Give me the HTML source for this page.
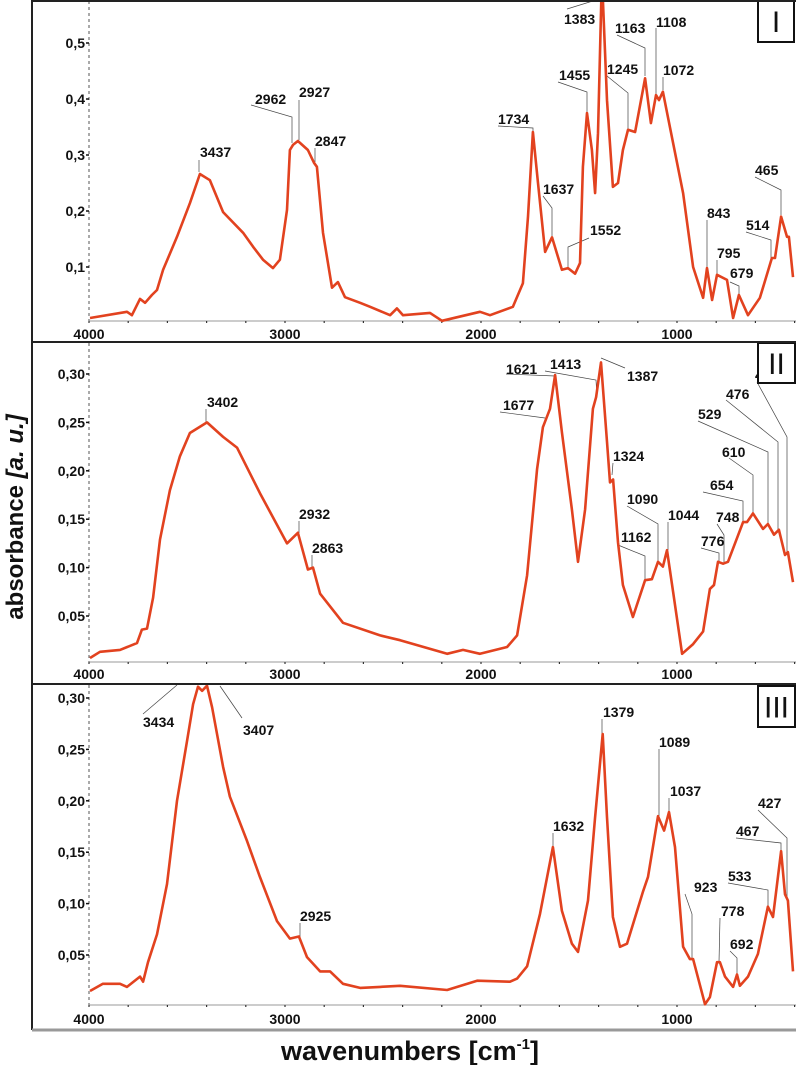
<!DOCTYPE html>
<html><head><meta charset="utf-8"><style>
html,body{margin:0;padding:0;background:#fff;}
svg{display:block;font-family:"Liberation Sans",Arial,sans-serif;}
.tl{font-size:14px;font-weight:bold;fill:#111;}
.pk{font-size:14px;font-weight:bold;fill:#111;}
.ld{stroke:#444;stroke-width:0.7;fill:none;}
</style></head><body>
<svg id="chart" width="796" height="1065" viewBox="0 0 796 1065"></svg>
<script>
// ---- data ----
const wnTicks = [4000, 3000, 2000, 1000];
const yTicksI = [0.1, 0.2, 0.3, 0.4, 0.5];
const yTickLabelsI = ["0,1", "0,2", "0,3", "0,4", "0,5"];
const yTicksII = [0.05, 0.10, 0.15, 0.20, 0.25, 0.30];
const yTickLabelsII = ["0,05", "0,10", "0,15", "0,20", "0,25", "0,30"];
const yTicksIII = [0.05, 0.10, 0.15, 0.20, 0.25, 0.30];
const yTickLabelsIII = ["0,05", "0,10", "0,15", "0,20", "0,25", "0,30"];

const wnI = [3995,3806,3781,3740,3714,3679,3653,3622,3551,3485,3434,3383,3316,3214,3163,3112,3061,3026,2990,2975,2959,2934,2883,2852,2837,2806,2760,2730,2694,2617,2566,2464,2429,2398,2260,2199,2005,1954,1837,1786,1760,1735,1709,1673,1638,1587,1556,1520,1495,1480,1459,1434,1418,1403,1383,1357,1327,1301,1276,1250,1214,1163,1133,1107,1092,1072,1036,969,918,867,847,821,796,745,714,684,638,577,516,500,469,439,429,408];
const absI = [0.009,0.02,0.014,0.043,0.036,0.05,0.059,0.095,0.154,0.214,0.266,0.255,0.198,0.161,0.136,0.113,0.098,0.113,0.202,0.309,0.318,0.325,0.309,0.286,0.279,0.161,0.063,0.073,0.046,0.036,0.029,0.014,0.026,0.014,0.018,0.004,0.02,0.014,0.029,0.071,0.19,0.341,0.25,0.127,0.153,0.095,0.098,0.088,0.107,0.279,0.375,0.309,0.232,0.339,0.62,0.398,0.243,0.25,0.309,0.345,0.341,0.437,0.357,0.407,0.398,0.413,0.35,0.232,0.1,0.045,0.098,0.041,0.086,0.077,0.009,0.05,0.014,0.045,0.116,0.116,0.19,0.154,0.154,0.082];

const wnII = [3995,3944,3842,3755,3730,3704,3673,3638,3587,3536,3485,3398,3316,3245,3128,2990,2934,2883,2857,2821,2704,2515,2413,2173,2092,2005,1867,1816,1765,1714,1684,1648,1622,1587,1536,1505,1469,1429,1413,1388,1357,1342,1326,1301,1276,1225,1163,1128,1097,1072,1051,1020,974,918,867,832,811,791,765,740,663,643,612,561,536,505,480,449,434,408];
const absII = [0.0066,0.013,0.015,0.022,0.036,0.037,0.069,0.129,0.18,0.215,0.239,0.25,0.235,0.224,0.177,0.125,0.136,0.098,0.1,0.073,0.043,0.03,0.025,0.011,0.015,0.011,0.018,0.03,0.092,0.202,0.245,0.264,0.299,0.24,0.16,0.106,0.16,0.264,0.276,0.312,0.23,0.188,0.191,0.126,0.082,0.049,0.087,0.088,0.106,0.101,0.118,0.075,0.011,0.021,0.034,0.078,0.082,0.106,0.104,0.106,0.147,0.147,0.156,0.14,0.145,0.134,0.139,0.113,0.116,0.085];

const wnIII = [3995,3929,3842,3806,3740,3724,3699,3653,3602,3551,3500,3469,3444,3423,3398,3372,3316,3281,3194,3128,3041,2975,2929,2888,2821,2770,2704,2617,2515,2413,2173,2020,1852,1816,1765,1699,1633,1587,1536,1505,1454,1418,1379,1357,1327,1291,1255,1173,1148,1097,1066,1041,1010,969,934,918,857,832,796,781,755,714,694,679,638,587,536,510,469,449,434,408];
const absIII = [0.015,0.022,0.022,0.019,0.029,0.024,0.043,0.07,0.119,0.2,0.258,0.294,0.311,0.307,0.312,0.291,0.233,0.204,0.161,0.126,0.083,0.066,0.068,0.048,0.034,0.034,0.022,0.018,0.019,0.02,0.016,0.025,0.024,0.027,0.039,0.09,0.155,0.093,0.061,0.053,0.103,0.184,0.265,0.184,0.087,0.058,0.061,0.112,0.126,0.185,0.171,0.189,0.155,0.058,0.046,0.046,0.002,0.009,0.043,0.043,0.029,0.019,0.031,0.02,0.029,0.051,0.097,0.087,0.151,0.109,0.103,0.034];

// peak annotations: label, text x, baseline y, leader polyline
const peaksI = [
 ["3437",200,157,[[199,160],[199,172]]],
 ["2962",255,104,[[251,105],[292,117],[292,143]]],
 ["2927",299,97,[[299,100],[299,140]]],
 ["2847",315,146,[[315,148],[315,162]]],
 ["1734",498,124,[[498,126],[533,128],[533,132]]],
 ["1637",543,194,[[543,196],[552,208],[552,236]]],
 ["1552",590,235,[[589,238],[568,247],[568,268]]],
 ["1455",559,80,[[558,82],[587,92],[587,112]]],
 ["1383",564,24,[[567,9],[596,0]]],
 ["1245",607,74,[[607,76],[628,93],[628,130]]],
 ["1163",615,33,[[617,35],[645,48],[645,76]]],
 ["1108",656,27,[[656,28],[656,94]]],
 ["1072",663,75,[[663,77],[663,90]]],
 ["843",707,218,[[707,220],[707,268]]],
 ["795",717,258,[[717,260],[717,275]]],
 ["679",730,278,[[730,282],[739,286],[739,294]]],
 ["514",746,230,[[746,232],[771,240],[771,258]]],
 ["465",755,175,[[755,177],[781,190],[781,215]]]
];
const peaksII = [
 ["3402",207,407,[[206,409],[206,422]]],
 ["2932",299,519,[[299,521],[299,533]]],
 ["2863",312,553,[[312,555],[312,568]]],
 ["1621",506,374,[[506,374],[555,376]]],
 ["1413",550,369,[[545,371],[596,380],[597,397]]],
 ["1387",627,381,[[625,368],[601,358]]],
 ["1677",503,410,[[500,412],[545,418]]],
 ["1324",613,461,[[613,463],[612,475]]],
 ["1090",627,504,[[627,506],[658,524],[658,562]]],
 ["1162",621,542,[[618,545],[645,556],[645,580]]],
 ["1044",668,520,[[668,522],[668,550]]],
 ["748",716,522,[[717,524],[724,535],[724,562]]],
 ["776",701,546,[[701,548],[719,553],[719,562]]],
 ["654",710,490,[[703,492],[743,501],[743,522]]],
 ["610",722,457,[[729,458],[753,475],[753,513]]],
 ["529",698,419,[[698,421],[768,452],[768,524]]],
 ["476",726,399,[[726,400],[778,442],[778,530]]],
 ["427",755,380,[[757,382],[787,437],[787,552]]]
];
const peaksIII = [
 ["3434",143,727,[[143,714],[177,685]]],
 ["3407",243,735,[[242,718],[220,686]]],
 ["2925",300,921,[[300,923],[300,937]]],
 ["1632",553,831,[[553,833],[553,847]]],
 ["1379",603,717,[[602,719],[602,734]]],
 ["1089",659,747,[[659,749],[659,816]]],
 ["1037",670,796,[[669,798],[669,812]]],
 ["923",694,892,[[685,894],[692,914],[692,959]]],
 ["778",721,916,[[720,918],[719,962]]],
 ["692",730,949,[[730,951],[737,958],[737,974]]],
 ["533",728,881,[[728,883],[768,890],[768,907]]],
 ["467",736,836,[[736,838],[781,843],[781,851]]],
 ["427",758,808,[[758,810],[787,838],[787,901]]]
];

// ---- drawing ----
const NS = "http://www.w3.org/2000/svg";
const svg = document.getElementById("chart");
function mk(tag, attrs, parent){ const e=document.createElementNS(NS,tag); for(const k in attrs) e.setAttribute(k,attrs[k]); (parent||svg).appendChild(e); return e; }
const X0 = 89, PX_PER_WN = 0.196;
function xs(w){ return X0 + (4000 - w) * PX_PER_WN; }

const panels = [
 {name:"I", top:0, bottom:342, axisY:321, y0:323, scale:560, wn:wnI, ab:absI, ticks:yTicksI, tl:yTickLabelsI, peaks:peaksI, lblY:339, box:[758,0,36,42]},
 {name:"II", top:342, bottom:684, axisY:662, y0:664.4, scale:968, wn:wnII, ab:absII, ticks:yTicksII, tl:yTickLabelsII, peaks:peaksII, lblY:679, box:[758,343,37,40]},
 {name:"III", top:684, bottom:1030, axisY:1005, y0:1006.4, scale:1028, wn:wnIII, ab:absIII, ticks:yTicksIII, tl:yTickLabelsIII, peaks:peaksIII, lblY:1024, box:[758,686,37,41]}
];

panels.forEach((p, idx) => {
  const g = mk("g", {});
  
  
  const clipId = "clip" + idx;
  const cp = mk("clipPath", {id: clipId}, g);
  mk("rect", {x: 60, y: p.top + 1, width: 736, height: p.bottom - p.top - 2}, cp);
  const ys = v => p.y0 - v * p.scale;
  // y axis dashed
  const ya = mk("line", {x1: X0, y1: p.top + 1, x2: X0, y2: p.axisY, stroke: "#555", "stroke-width": 1, "stroke-dasharray": "3,3"}, g);
  
  
  // x axis
  const xa = mk("line", {x1: X0, y1: p.axisY, x2: 796, y2: p.axisY, stroke: "#999", "stroke-width": 1}, g);
  
  
  for (let w = 4000; w >= 400; w -= 200) {
    const t = mk("line", {x1: xs(w), y1: p.axisY, x2: xs(w), y2: p.axisY + 2, stroke: "#333", "stroke-width": 1.2}, g);
    
    
  }
  wnTicks.forEach(w => {
    const t = mk("text", {x: xs(w), y: p.lblY, "text-anchor": "middle", class: "tl"}, g);
    t.textContent = String(w);
    
    
  });
  p.ticks.forEach((v, i) => {
    const tk = mk("line", {x1: X0 - 3, y1: ys(v), x2: X0, y2: ys(v), stroke: "#111", "stroke-width": 1.5}, g);
    
    
    const t = mk("text", {x: X0 - 4, y: ys(v) + 5, "text-anchor": "end", class: "tl"}, g);
    t.textContent = p.tl[i];
    
    
  });
  // leaders + labels
  p.peaks.forEach(pk => {
    const pl = mk("polyline", {points: pk[3].map(q => q.join(",")).join(" "), class: "ld"}, g);
    
    
    const t = mk("text", {x: pk[1], y: pk[2], class: "pk"}, g);
    t.textContent = pk[0];
    
    
  });
  // spectrum
  const d = p.wn.map((w, i) => (i ? "L" : "M") + xs(w).toFixed(1) + "," + ys(p.ab[i]).toFixed(1)).join(" ");
  const path = mk("path", {d: d, fill: "none", stroke: "#e2421f", "stroke-width": 2.6, "stroke-linejoin": "round", "clip-path": "url(#" + clipId + ")"}, g);
  
  
  // roman box
  const b = p.box;
  const br = mk("rect", {x: b[0], y: b[1], width: b[2], height: b[3], fill: "#fff", stroke: "#111", "stroke-width": 2}, g);
  
  
  const bt = mk("text", {x: b[0] + b[2] / 2, y: b[1] + b[3] / 2 + 11, "text-anchor": "middle", "font-size": "30", fill: "#111"}, g);
  bt.textContent = p.name;
  
  
});

// frame
const fr = mk("path", {d: "M32,1 H796 M32,0 V1030 M32,342 H796 M32,684 H796", stroke: "#222", "stroke-width": 2, fill: "none"});


const fb = mk("line", {x1: 32, y1: 1030, x2: 796, y2: 1030, stroke: "#999", "stroke-width": 3});



// axis titles
const yt = mk("text", {x: 0, y: 0, transform: "translate(23,517) rotate(-90)", "text-anchor": "middle", "font-size": "24", "font-weight": "bold", fill: "#111"});
yt.innerHTML = 'absorbance <tspan font-style="italic">[a. u.]</tspan>';


const xt = mk("text", {x: 410, y: 1060, "text-anchor": "middle", "font-size": "27", "font-weight": "bold", fill: "#111"});
xt.innerHTML = 'wavenumbers [cm<tspan font-size="15" dy="-11">-1</tspan><tspan dy="11">]</tspan>';


</script>
</body></html>
